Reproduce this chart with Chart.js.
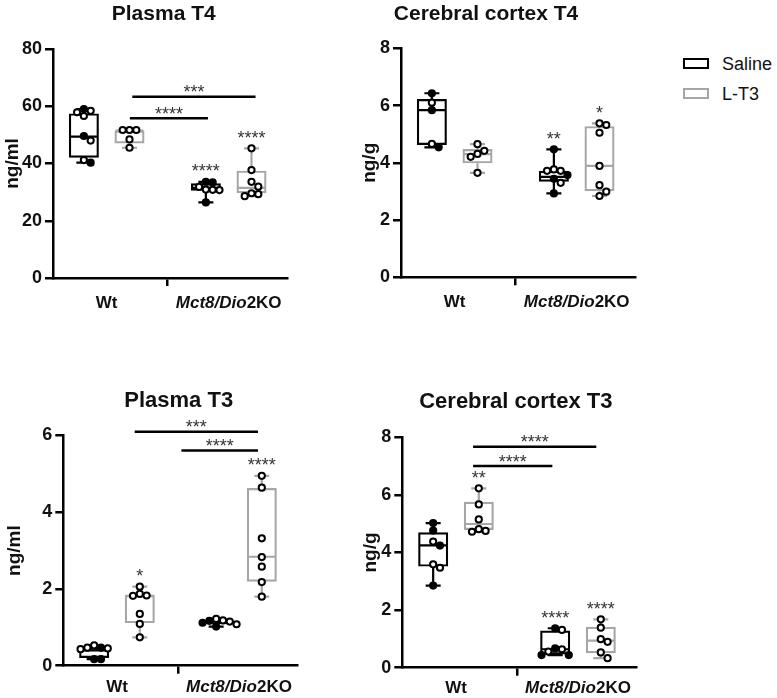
<!DOCTYPE html>
<html><head><meta charset="utf-8">
<script src="https://cdn.jsdelivr.net/npm/chart.js@4/dist/chart.umd.min.js"></script>
<style>
html,body{margin:0;padding:0;background:#fff;width:777px;height:698px;overflow:hidden;position:relative;font-family:"Liberation Sans",Arial,sans-serif;}
canvas{position:absolute;}
.leg{position:absolute;font-size:18px;line-height:18px;color:#111;white-space:nowrap;}
.sw{position:absolute;box-sizing:border-box;border:2.5px solid #000;background:#fff;}
</style></head><body>
<canvas id="c1"></canvas><canvas id="c2"></canvas><canvas id="c3"></canvas><canvas id="c4"></canvas>
<div class="sw" style="left:683px;top:58px;width:26px;height:11px;border-color:#000"></div>
<div class="leg" style="left:722px;top:54.5px">Saline</div>
<div class="sw" style="left:683px;top:88px;width:26px;height:11px;border-color:#a6a6a6"></div>
<div class="leg" style="left:722px;top:84.5px">L-T3</div>
<script>
// ---------------- DATA ----------------
const categories = ['Wt', 'Mct8/Dio2KO'];
const treatments = ['Saline', 'L-T3'];

// Plasma T4 (ng/ml)
const plasmaT4Ticks = [0, 20, 40, 60, 80];
const plasmaT4WtSaline = [59.0, 58.4, 57.9, 56.6, 49.6, 48.0, 41.2, 40.3];
const plasmaT4WtSalineSex = ['M','F','F','F','M','F','F','M'];
const plasmaT4WtLT3 = [51.7, 51.7, 51.7, 48.4, 45.5];
const plasmaT4WtLT3Sex = ['F','F','F','F','F'];
const plasmaT4KoSaline = [33.6, 33.4, 31.8, 30.9, 30.8, 30.7, 26.4];
const plasmaT4KoSalineSex = ['M','M','F','F','F','F','M'];
const plasmaT4KoLT3 = [45.3, 37.7, 33.6, 31.9, 29.6, 29.3, 28.6];
const plasmaT4KoLT3Sex = ['F','F','F','F','F','F','F'];
// box stats: [min, q1, median, q3, max]
const plasmaT4Boxes = [[40.3, 42.0, 49.4, 57.5, 59.0], [45.5, 47.0, 51.5, 51.5, 51.7], [26.4, 30.5, 31.5, 33.1, 33.6], [28.6, 29.6, 31.5, 37.5, 45.3]];
const plasmaT4Stars = ['', '', '****', '****'];
const plasmaT4Brackets = [{from: 0.19, to: 0.83, y: 55.8, label: '****'}, {from: 0.21, to: 1.22, y: 63.3, label: '***'}];

// Cerebral cortex T4 (ng/g)
const cortexT4Ticks = [0, 2, 4, 6, 8];
const cortexT4WtSaline = [6.43, 6.10, 5.84, 4.66, 4.54];
const cortexT4WtSalineSex = ['M','F','M','F','M'];
const cortexT4WtLT3 = [4.65, 4.42, 4.31, 4.21, 3.65];
const cortexT4WtLT3Sex = ['F','F','F','F','F'];
const cortexT4KoSaline = [4.47, 3.77, 3.72, 3.72, 3.57, 3.44, 3.30, 2.93];
const cortexT4KoSalineSex = ['M','F','F','F','M','M','F','M'];
const cortexT4KoLT3 = [5.38, 5.32, 5.05, 3.89, 3.22, 2.99, 2.84];
const cortexT4KoLT3Sex = ['F','F','F','F','F','F','F'];
const cortexT4Boxes = [[4.54, 4.62, 5.84, 6.23, 6.43], [3.65, 3.98, 4.30, 4.48, 4.65], [2.93, 3.34, 3.51, 3.72, 4.47], [2.84, 3.01, 3.89, 5.28, 5.38]];
const cortexT4Stars = ['', '', '**', '*'];
const cortexT4Brackets = [];

// Plasma T3 (ng/ml)
const plasmaT3Ticks = [0, 2, 4, 6];
const plasmaT3WtSaline = [0.53, 0.47, 0.47, 0.45, 0.43, 0.17, 0.17];
const plasmaT3WtSalineSex = ['F','M','F','F','F','M','M'];
const plasmaT3WtLT3 = [2.06, 1.87, 1.83, 1.82, 1.35, 1.09, 0.74];
const plasmaT3WtLT3Sex = ['F','F','F','F','F','F','F'];
const plasmaT3KoSaline = [1.22, 1.18, 1.17, 1.15, 1.12, 1.08, 1.02];
const plasmaT3KoSalineSex = ['F','F','M','F','M','F','M'];
const plasmaT3KoLT3 = [4.95, 4.64, 3.32, 2.83, 2.58, 2.18, 1.80];
const plasmaT3KoLT3Sex = ['F','F','F','F','F','F','F'];
const plasmaT3Boxes = [[0.17, 0.20, 0.40, 0.48, 0.53], [0.74, 1.11, 1.82, 1.84, 2.06], [1.02, 1.08, 1.13, 1.17, 1.22], [1.80, 2.19, 2.84, 4.63, 4.95]];
const plasmaT3Stars = ['', '*', '', '****'];
const plasmaT3Brackets = [{from: 0.145, to: 1.156, y: 6.1, label: '***'}, {from: 0.528, to: 1.156, y: 5.61, label: '****'}];

// Cerebral cortex T3 (ng/g)
const cortexT3Ticks = [0, 2, 4, 6, 8];
const cortexT3WtSaline = [5.02, 4.76, 4.38, 4.24, 3.59, 3.47, 2.85];
const cortexT3WtSalineSex = ['M','M','F','M','F','F','M'];
const cortexT3WtLT3 = [6.23, 5.67, 5.15, 4.81, 4.75, 4.72];
const cortexT3WtLT3Sex = ['F','F','F','F','F','F'];
const cortexT3KoSaline = [1.37, 1.31, 0.67, 0.64, 0.56, 0.44, 0.44];
const cortexT3KoSalineSex = ['M','F','M','F','F','M','M'];
const cortexT3KoLT3 = [1.68, 1.39, 0.99, 0.90, 0.53, 0.33];
const cortexT3KoLT3Sex = ['F','F','F','F','F','F'];
const cortexT3Boxes = [[2.85, 3.51, 4.25, 4.70, 5.02], [4.72, 4.78, 4.99, 5.76, 6.23], [0.44, 0.46, 0.64, 1.29, 1.37], [0.33, 0.50, 0.94, 1.42, 1.68]];
const cortexT3Stars = ['', '**', '****', '****'];
const cortexT3Brackets = [{from: 0.14, to: 1.15, y: 7.67, label: '****'}, {from: 0.14, to: 0.79, y: 7.0, label: '****'}];

// ---------------- PANELS ----------------
const panels = [
  {title: 'Plasma T4', unit: 'ng/ml', ticks: plasmaT4Ticks,
   groups: [plasmaT4WtSaline, plasmaT4WtLT3, plasmaT4KoSaline, plasmaT4KoLT3],
   sexes: [plasmaT4WtSalineSex, plasmaT4WtLT3Sex, plasmaT4KoSalineSex, plasmaT4KoLT3Sex],
   boxes: plasmaT4Boxes, stars: plasmaT4Stars, brackets: plasmaT4Brackets},
  {title: 'Cerebral cortex T4', unit: 'ng/g', ticks: cortexT4Ticks,
   groups: [cortexT4WtSaline, cortexT4WtLT3, cortexT4KoSaline, cortexT4KoLT3],
   sexes: [cortexT4WtSalineSex, cortexT4WtLT3Sex, cortexT4KoSalineSex, cortexT4KoLT3Sex],
   boxes: cortexT4Boxes, stars: cortexT4Stars, brackets: cortexT4Brackets},
  {title: 'Plasma T3', unit: 'ng/ml', ticks: plasmaT3Ticks,
   groups: [plasmaT3WtSaline, plasmaT3WtLT3, plasmaT3KoSaline, plasmaT3KoLT3],
   sexes: [plasmaT3WtSalineSex, plasmaT3WtLT3Sex, plasmaT3KoSalineSex, plasmaT3KoLT3Sex],
   boxes: plasmaT3Boxes, stars: plasmaT3Stars, brackets: plasmaT3Brackets},
  {title: 'Cerebral cortex T3', unit: 'ng/g', ticks: cortexT3Ticks,
   groups: [cortexT3WtSaline, cortexT3WtLT3, cortexT3KoSaline, cortexT3KoLT3],
   sexes: [cortexT3WtSalineSex, cortexT3WtLT3Sex, cortexT3KoSalineSex, cortexT3KoLT3Sex],
   boxes: cortexT3Boxes, stars: cortexT3Stars, brackets: cortexT3Brackets}
];

// ---------------- LAYOUT ----------------
const layouts = [
  {id: 'c1', canvas: {l: 0,   t: 0,   w: 300, h: 320}, area: {l: 53,    t: 49,    h: 229},   title: {x: 163.7, y: 20,  size: 21}, yTitleX: 12.5, catBase: 30},
  {id: 'c2', canvas: {l: 340, t: 0,   w: 310, h: 320}, area: {l: 401,   t: 48.3,  h: 229},   title: {x: 486,   y: 20,  size: 21}, yTitleX: 370,  catBase: 30},
  {id: 'c3', canvas: {l: 0,   t: 340, w: 310, h: 358}, area: {l: 63.3,  t: 435.5, h: 230.2}, title: {x: 178.7, y: 407, size: 22}, yTitleX: 14.5, catBase: 26},
  {id: 'c4', canvas: {l: 340, t: 340, w: 310, h: 358}, area: {l: 402.3, t: 437.3, h: 230.4}, title: {x: 515.8, y: 408, size: 22}, yTitleX: 371,  catBase: 25.5}
];

const FONT = '"Liberation Sans", Arial, Helvetica, sans-serif';
const AREA_W = 234, X_MIN = -0.44, X_MAX = 1.478, OFF = 0.187;
const COLORS = ['#000000', '#a6a6a6'];
const AXIS_W = 2.5, BOX_W = 2.2, BAR_PX = 30;

function swarm(vals, pxY, pxX) {
  const D = 6.8, placed = [], off = new Array(vals.length).fill(0);
  const order = vals.map((v, i) => i).sort((a, b) => vals[b] - vals[a]);
  order.forEach(i => {
    const py = vals[i] * pxY;
    for (const k of [0, 1, -1, 2, -2, 3, -3, 4, -4]) {
      const px = k * D;
      if (placed.every(p => (p.px - px) ** 2 + (p.py - py) ** 2 >= D * D)) {
        placed.push({px, py}); off[i] = px / pxX; break;
      }
    }
  });
  return off;
}

function drawInkCentered(ctx, text, cx, cy) {
  const m = ctx.measureText(text);
  const base = cy - (m.actualBoundingBoxDescent - m.actualBoundingBoxAscent) / 2;
  ctx.fillText(text, cx, base);
}

function buildPanel(P, L) {
  const cv = document.getElementById(L.id);
  cv.width = L.canvas.w; cv.height = L.canvas.h;
  cv.style.left = L.canvas.l + 'px'; cv.style.top = L.canvas.t + 'px';
  const yMax = P.ticks[P.ticks.length - 1];
  const pxX = AREA_W / (X_MAX - X_MIN), pxY = L.area.h / yMax;
  const yW = L.area.l - L.canvas.l;
  const padTop = L.area.t - L.canvas.t;
  const padRight = L.canvas.w - yW - AREA_W;
  const xH = L.canvas.h - padTop - L.area.h;
  const groupX = [];
  categories.forEach((c, ci) => treatments.forEach((t, ti) => groupX.push(ci + (ti === 0 ? -OFF : OFF))));

  const datasets = [];
  treatments.forEach((t, ti) => {
    const idx = [ti, ti + 2];
    datasets.push({
      type: 'bar', label: t, order: 2, grouped: false,
      data: idx.map(g => ({x: groupX[g], y: [P.boxes[g][1], P.boxes[g][3]]})),
      backgroundColor: 'rgba(0,0,0,0)', borderColor: COLORS[ti], borderWidth: BOX_W,
      borderSkipped: false, barThickness: BAR_PX, inflateAmount: 0
    });
  });
  treatments.forEach((t, ti) => {
    const idx = [ti, ti + 2];
    const pts = [], fills = [];
    idx.forEach(g => {
      const off = swarm(P.groups[g], pxY, pxX);
      P.groups[g].forEach((v, i) => {
        pts.push({x: groupX[g] + off[i], y: v});
        fills.push(P.sexes[g][i] === 'M' ? '#000000' : '#ffffff');
      });
    });
    datasets.push({
      type: 'scatter', label: t + ' points', order: 1, data: pts, clip: false,
      pointRadius: 3.1, pointBorderWidth: 2, pointBorderColor: '#000',
      pointBackgroundColor: fills, showLine: false
    });
  });

  const ox = L.canvas.l, oy = L.canvas.t;
  const extras = {
    id: 'extras_' + L.id,
    beforeDatasetsDraw(chart) {
      const xs = chart.scales.x, ys = chart.scales.y, ctx = chart.ctx;
      P.boxes.forEach((b, g) => {
        const cx = xs.getPixelForValue(groupX[g]);
        const [mn, q1, md, q3, mx] = b.map(v => ys.getPixelForValue(v));
        ctx.save();
        ctx.strokeStyle = COLORS[g % 2]; ctx.lineWidth = BOX_W; ctx.lineCap = 'butt';
        ctx.beginPath();
        ctx.moveTo(cx, mx); ctx.lineTo(cx, q3);
        ctx.moveTo(cx, q1); ctx.lineTo(cx, mn);
        ctx.moveTo(cx - 7.5, mx); ctx.lineTo(cx + 7.5, mx);
        ctx.moveTo(cx - 7.5, mn); ctx.lineTo(cx + 7.5, mn);
        ctx.moveTo(cx - BAR_PX / 2 + 1, md); ctx.lineTo(cx + BAR_PX / 2 - 1, md);
        ctx.stroke();
        ctx.restore();
      });
    },
    afterDatasetsDraw(chart) {
      const xs = chart.scales.x, ys = chart.scales.y, ctx = chart.ctx;
      ctx.save();
      ctx.font = '18px ' + FONT; ctx.fillStyle = '#333'; ctx.textAlign = 'center'; ctx.textBaseline = 'alphabetic';
      P.stars.forEach((s, g) => {
        if (!s) return;
        drawInkCentered(ctx, s, xs.getPixelForValue(groupX[g]), ys.getPixelForValue(P.boxes[g][4]) - 14);
      });
      P.brackets.forEach(br => {
        const y = ys.getPixelForValue(br.y);
        const x1 = xs.getPixelForValue(br.from), x2 = xs.getPixelForValue(br.to);
        ctx.strokeStyle = '#000'; ctx.lineWidth = 2.5;
        ctx.beginPath(); ctx.moveTo(x1, y); ctx.lineTo(x2, y); ctx.stroke();
        drawInkCentered(ctx, br.label, (x1 + x2) / 2, y - 8);
      });
      ctx.restore();
    },
    afterDraw(chart) {
      const xs = chart.scales.x, ctx = chart.ctx, ca = chart.chartArea;
      ctx.save();
      ctx.fillStyle = '#111';
      ctx.font = 'bold ' + L.title.size + 'px ' + FONT; ctx.textAlign = 'center'; ctx.textBaseline = 'alphabetic';
      ctx.fillText(P.title, L.title.x - ox, L.title.y - oy);
      ctx.save();
      ctx.translate(L.yTitleX - ox, (ca.top + ca.bottom) / 2);
      ctx.rotate(-Math.PI / 2);
      ctx.font = 'bold 19px ' + FONT; ctx.textBaseline = 'middle';
      ctx.fillText(P.unit, 0, 0);
      ctx.restore();
      categories.forEach((c, ci) => {
        const cx = xs.getPixelForValue(ci), by = ca.bottom + L.catBase;
        const gene = c.indexOf('/') >= 0 ? c.replace(/\d*KO$/, '') : '';
        const rest = c.slice(gene.length);
        ctx.font = 'italic bold 17px ' + FONT; const w1 = gene ? ctx.measureText(gene).width : 0;
        ctx.font = 'bold 17px ' + FONT; const w2 = ctx.measureText(rest).width;
        let x = cx - (w1 + w2) / 2;
        ctx.textAlign = 'left';
        if (gene) { ctx.font = 'italic bold 17px ' + FONT; ctx.fillText(gene, x, by); x += w1; }
        ctx.font = 'bold 17px ' + FONT; ctx.fillText(rest, x, by);
      });
      ctx.restore();
    }
  };

  new Chart(cv, {
    type: 'bar',
    data: {datasets},
    options: {
      responsive: false, animation: false, devicePixelRatio: 1,
      layout: {autoPadding: false, padding: {top: padTop, right: padRight, left: 0, bottom: 0}},
      plugins: {legend: {display: false}, tooltip: {enabled: false}, title: {display: false}},
      scales: {
        x: {
          type: 'linear', min: X_MIN, max: X_MAX, offset: false,
          afterBuildTicks: s => { s.ticks = categories.map((c, i) => ({value: i})); },
          afterFit: s => { s.height = xH; },
          ticks: {callback: () => '', font: {size: 1}},
          grid: {display: true, drawOnChartArea: false, drawTicks: true, tickLength: 8, color: '#000', lineWidth: AXIS_W},
          border: {display: true, color: '#000', width: AXIS_W}
        },
        y: {
          type: 'linear', min: 0, max: yMax,
          afterBuildTicks: s => { s.ticks = P.ticks.map(v => ({value: v})); },
          afterFit: s => { s.width = yW; },
          ticks: {color: '#111', padding: 3, font: {family: FONT, size: 18, weight: 'bold'}},
          grid: {display: true, drawOnChartArea: false, drawTicks: true, tickLength: 8, color: '#000', lineWidth: AXIS_W},
          border: {display: true, color: '#000', width: AXIS_W}
        }
      }
    },
    plugins: [extras]
  });
}

panels.forEach((P, i) => buildPanel(P, layouts[i]));
</script>
</body></html>
